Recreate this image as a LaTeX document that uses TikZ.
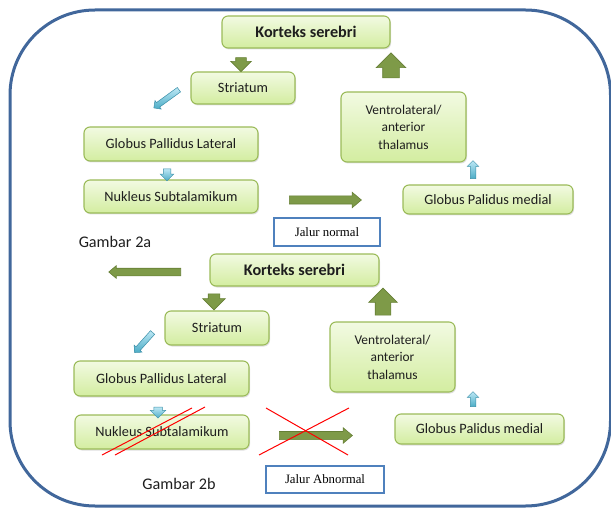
\documentclass[tikz,border=0pt]{standalone}
\usepackage{fontspec}
\setmainfont{Carlito}
\newfontfamily\jalurfont{Liberation Serif}
\usetikzlibrary{shapes.arrows,shadows}

\definecolor{nodetop}{HTML}{F2FAE2}
\definecolor{nodebot}{HTML}{D3EDA0}
\definecolor{nodeline}{HTML}{9BBB59}
\definecolor{textgray}{HTML}{1E1E1E}
\definecolor{arrowgreen}{HTML}{7E9A48}
\definecolor{arrowline}{HTML}{667F35}
\definecolor{bluetop}{HTML}{BDE8F5}
\definecolor{bluebot}{HTML}{4BACC6}
\definecolor{blueline}{HTML}{3A8FA8}
\definecolor{jalurblue}{HTML}{4F81BD}
\definecolor{frameblue}{HTML}{41679B}

\begin{document}
\begin{tikzpicture}[x=1pt,y=-1pt]
\tikzstyle{box}=[rectangle,rounded corners=6pt,draw=nodeline,line width=1.1pt,top color=nodetop,bottom color=nodebot,align=center,inner sep=0pt,text=textgray,font=\fontsize{14.3}{17}\selectfont,drop shadow={shadow xshift=1pt,shadow yshift=-1.5pt,opacity=0.25}]
\tikzstyle{thal}=[font=\fontsize{13.4}{17.5}\selectfont]
\tikzstyle{kort}=[font=\bfseries\fontsize{16.2}{18}\selectfont]
\tikzstyle{garrow}=[single arrow,fill=arrowgreen,draw=arrowline,line width=0.6pt,inner xsep=0pt,minimum width=0pt,single arrow head indent=0pt]
\tikzstyle{barrow}=[single arrow,top color=bluetop,bottom color=bluebot,draw=blueline,line width=0.5pt,inner xsep=0pt,minimum width=0pt,single arrow head indent=0pt]
\tikzstyle{jalur}=[rectangle,draw=jalurblue,line width=2.5pt,fill=white,inner sep=0pt,font=\jalurfont\fontsize{12.8}{14}\selectfont]
\tikzstyle{label}=[text=textgray,font=\fontsize{16.2}{18}\selectfont]
\tikzstyle{strike}=[red,line width=1pt]
\useasboundingbox (0,0) rectangle (611,508);
% outer frame
\draw[frameblue,line width=3pt,rounded corners=85pt] (10,10) rectangle (610.5,506);

% Gambar 2a: jalur normal
\node[box,kort,minimum width=168pt,minimum height=32pt] (kortA) at (306,32) {Korteks serebri};
\node[box,minimum width=104pt,minimum height=32pt] (striA) at (243,88) {Striatum};
\node[box,minimum width=174pt,minimum height=34pt] (gplA) at (171,144) {Globus Pallidus Lateral};
\node[box,minimum width=174pt,minimum height=33pt] (nstA) at (171,196.5) {Nukleus Subtalamikum};
\node[box,thal,minimum width=125pt,minimum height=70pt] (thalA) at (403.5,127) {Ventrolateral/\\anterior\\thalamus};
\node[box,minimum width=170pt,minimum height=29pt] (gpmA) at (488,199.5) {Globus Palidus medial};
\node[jalur,minimum width=106pt,minimum height=28pt] (jalA) at (327,232) {Jalur normal};
\node[label] (gamA) at (115,242) {Gambar 2a};

\node[garrow,minimum height=14pt,inner ysep=5pt,single arrow head extend=5pt,rotate=-90] (kortA-striA) at (241,62) {};
\node[garrow,minimum height=25pt,inner ysep=8pt,single arrow head extend=6.5pt,rotate=90] (thalA-kortA) at (391,69.5) {};
\node[barrow,minimum height=31pt,inner ysep=2.5pt,single arrow head extend=2.5pt,rotate=216] (striA-gplA) at (167.5,98) {};
\node[barrow,minimum height=12pt,inner ysep=3.5pt,single arrow head extend=3pt,rotate=-90] (gplA-nstA) at (167,173) {};
\node[garrow,minimum height=72pt,inner ysep=3.75pt,single arrow head extend=3.75pt,single arrow tip angle=80] (nstA-gpmA) at (323,200) {};
\node[barrow,minimum height=18pt,inner ysep=2.5pt,single arrow head extend=3pt,rotate=90] (gpmA-thalA) at (473,171) {};

% Gambar 2b: jalur abnormal
\node[box,kort,minimum width=169pt,minimum height=32pt] (kortB) at (294.5,270) {Korteks serebri};
\node[box,minimum width=104pt,minimum height=34pt] (striB) at (217,328) {Striatum};
\node[box,minimum width=175pt,minimum height=35pt] (gplB) at (161.5,378.5) {Globus Pallidus Lateral};
\node[box,minimum width=174pt,minimum height=34pt] (nstB) at (162,432) {Nukleus Subtalamikum};
\node[box,thal,minimum width=125pt,minimum height=70pt] (thalB) at (392.5,357) {Ventrolateral/\\anterior\\thalamus};
\node[box,minimum width=169pt,minimum height=30pt] (gpmB) at (479.5,429) {Globus Palidus medial};
\node[jalur,minimum width=118pt,minimum height=27pt] (jalB) at (325,479.5) {Jalur Abnormal};
\node[label] (gamB) at (179,484) {Gambar 2b};

\node[garrow,minimum height=72pt,inner ysep=3.5pt,single arrow head extend=2.5pt,single arrow tip angle=80,rotate=180] (kortB-out) at (147,272) {};
\node[garrow,minimum height=16pt,inner ysep=5.5pt,single arrow head extend=5.5pt,rotate=-90] (kortB-striB) at (214,299) {};
\node[garrow,minimum height=27pt,inner ysep=7.5pt,single arrow head extend=6.5pt,rotate=90] (thalB-kortB) at (383,305.5) {};
\node[barrow,minimum height=27pt,inner ysep=2.5pt,single arrow head extend=2.5pt,rotate=228] (striB-gplB) at (144.5,341.5) {};
\node[barrow,minimum height=11pt,inner ysep=4pt,single arrow head extend=3.5pt,rotate=-90] (gplB-nstB) at (158,410.5) {};
\node[garrow,minimum height=73pt,inner ysep=3.75pt,single arrow head extend=3.75pt,single arrow tip angle=80] (nstB-gpmB) at (313.5,435.5) {};
\node[barrow,minimum height=15pt,inner ysep=2.5pt,single arrow head extend=3pt,rotate=90] (gpmB-thalB) at (473,400.5) {};

% coretan merah
\draw[strike] (102,455) -- (192,408);
\draw[strike] (115,455) -- (205,407);
\draw[strike] (266,408) -- (348,455);
\draw[strike] (349,408) -- (259,455);
\end{tikzpicture}
\end{document}
